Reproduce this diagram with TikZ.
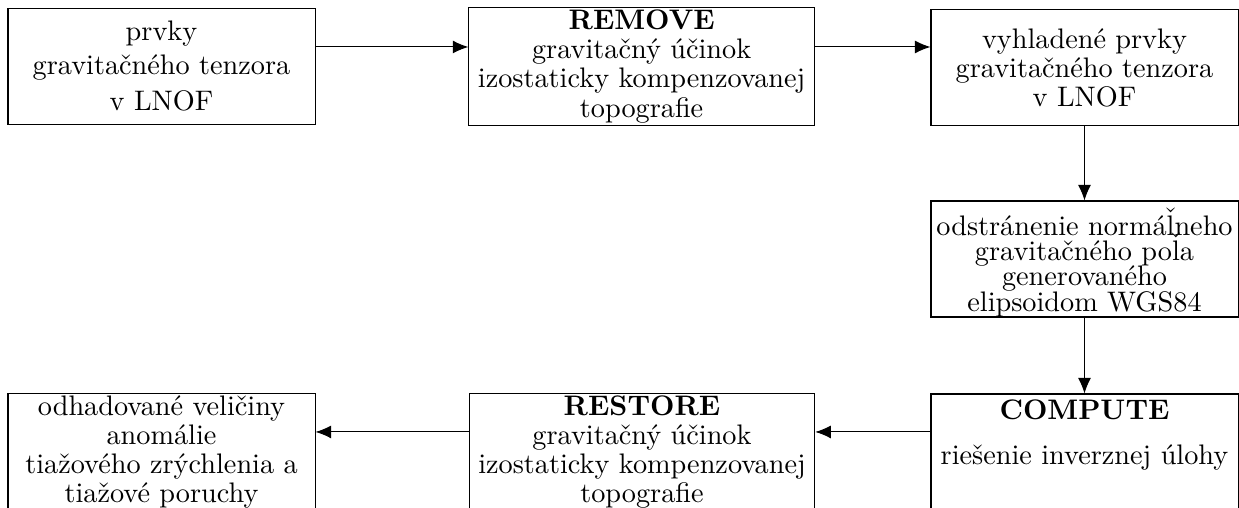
\documentclass[tikz,border=0pt]{standalone}
\usetikzlibrary{arrows.meta}

\newcommand{\lcar}{\ooalign{l\cr\hidewidth\smash{\raisebox{0.62ex}{\char"02C7}}\hidewidth\cr}}

\tikzset{
	stepbox/.style={draw,thin,rectangle,align=center,inner sep=1pt,font=\fontsize{10.9}{11.2}\selectfont,
		minimum width=4.163cm,minimum height=1.573cm},
	widebox/.style={stepbox,minimum width=4.685cm},
	flow/.style={thin,-{Latex[length=6pt,width=5pt]}}
}

\begin{document}
\begin{tikzpicture}

		\useasboundingbox (0,0) rectangle (16.8,-6.888);

		\coordinate (toprow) at (0,-0.637);
		\coordinate (botrow) at (0,-5.857);

		\node[stepbox]  (tensor)   at ( 2.190,-0.908) {prvky\\[2pt] gravitačného tenzora\\[2.7pt] v LNOF\\[-10pt]\mbox{}};
		\node[widebox]  (remove)   at ( 8.700,-0.902) {\textbf{REMOVE}\\ gravitačný účinok\\ izostaticky kompenzovanej\\ topografie};
		\node[stepbox]  (smooth)   at (14.705,-0.915) {vyhladené prvky\\ gravitačného tenzora\\ v LNOF};
		\node[stepbox]  (normal)   at (14.705,-3.512) {odstránenie normá\lcar neho\\[-1.4pt] gravitačného po\lcar a\\[-1.4pt] generovaného\\[-1.4pt] elipsoidom WGS84\\[-14.5pt]\mbox{}};
		\node[stepbox]  (compute)  at (14.705,-6.129) {\textbf{COMPUTE}\\[6pt] riešenie inverznej úlohy\\[4pt] \mbox{}};
		\node[widebox]  (restore)  at ( 8.705,-6.129) {\textbf{RESTORE}\\ gravitačný účinok\\ izostaticky kompenzovanej\\ topografie};
		\node[stepbox]  (estimate) at ( 2.190,-6.129) {odhadované veličiny\\ anomálie\\ tiažového zrýchlenia a\\ tiažové poruchy};

		\draw[flow] (tensor.east |- toprow) -- (remove.west |- toprow);
		\draw[flow] (remove.east |- toprow) -- (smooth.west |- toprow);
		\draw[flow] (smooth) -- (normal);
		\draw[flow] (normal) -- (compute);
		\draw[flow] (compute.west |- botrow) -- (restore.east |- botrow);
		\draw[flow] (restore.west |- botrow) -- (estimate.east |- botrow);

	\end{tikzpicture}
\end{document}
